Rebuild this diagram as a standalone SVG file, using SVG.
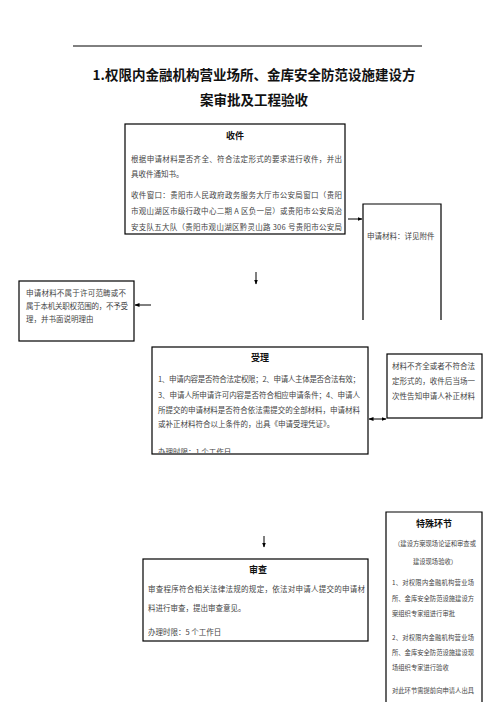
<svg xmlns="http://www.w3.org/2000/svg" width="496" height="702" viewBox="0 0 496 702">
<style>
.t{font-family:"Noto Sans CJK SC","Noto Sans",sans-serif;font-size:7.5px;fill:#444}
.s{font-family:"Noto Sans CJK SC","Noto Sans",sans-serif;font-size:6.3px;fill:#444}
.h{font-family:"Noto Sans CJK SC","Noto Sans",sans-serif;font-size:9px;font-weight:bold;fill:#111;text-anchor:middle}
.title{font-family:"Noto Sans CJK SC","Noto Sans",sans-serif;font-size:13.5px;font-weight:bold;fill:#111;text-anchor:middle}
.box{fill:#fff;stroke:#000;stroke-width:1.2}
.open{fill:none;stroke:#000;stroke-width:1.2}
.c{stroke:#000;stroke-width:1;fill:none}
</style>
<defs>
<marker id="ah" viewBox="0 0 10 10" refX="9" refY="5" markerWidth="5" markerHeight="5" orient="auto-start-reverse">
<path d="M0,1 L10,5 L0,9 Z" fill="#000"/>
</marker>
<clipPath id="clipAccept"><rect x="152" y="347" width="216" height="106"/></clipPath>
</defs>
<rect width="496" height="702" fill="#fff"/>
<line x1="73" y1="46" x2="422" y2="46" stroke="#000" stroke-width="1"/>
<text class="title" x="254" y="80">1.权限内金融机构营业场所、金库安全防范设施建设方</text>
<text class="title" x="254" y="105">案审批及工程验收</text>

<g id="node-receive">
<rect class="box" x="125" y="124" width="220" height="110"/>
<text class="h" x="235" y="139">收件</text>
<text class="t" x="131" y="162" textLength="211">根据申请材料是否齐全、符合法定形式的要求进行收件，并出</text>
<text class="t" x="131" y="177">具收件通知书。</text>
<text class="t" x="131" y="198" textLength="211">收件窗口：贵阳市人民政府政务服务大厅市公安局窗口（贵阳</text>
<text class="t" x="131" y="214" textLength="211">市观山湖区市级行政中心二期 A 区负一层）或贵阳市公安局治</text>
<text class="t" x="131" y="230" textLength="211">安支队五大队（贵阳市观山湖区黔灵山路 306 号贵阳市公安局</text>
</g>

<g id="node-materials">
<path class="open" d="M363,320 V204 H441 V320"/>
<text class="t" x="367" y="239">申请材料：详见附件</text>
</g>

<g id="node-reject">
<rect class="box" x="19" y="281" width="115" height="60"/>
<text class="t" x="26" y="296" textLength="100">申请材料不属于许可范畴或不</text>
<text class="t" x="26" y="309" textLength="102">属于本机关职权范围的，不予受</text>
<text class="t" x="26" y="322">理，并书面说明理由</text>
</g>

<g id="node-accept">
<rect class="box" x="152" y="347" width="216" height="107"/>
<text class="h" x="260" y="361">受理</text>
<text class="t" x="158" y="382" textLength="202">1、申请内容是否符合法定权限；2、申请人主体是否合法有效；</text>
<text class="t" x="158" y="398" textLength="202">3、申请人所申请许可内容是否符合相应申请条件；4、申请人</text>
<text class="t" x="158" y="413" textLength="202">所提交的申请材料是否符合依法需提交的全部材料，申请材料</text>
<text class="t" x="158" y="427">或补正材料符合以上条件的，出具《申请受理凭证》。</text>
<text class="t" x="158" y="454.5" clip-path="url(#clipAccept)">办理时限：1 个工作日</text>
</g>

<g id="node-correct">
<rect class="box" x="387" y="354" width="95" height="64"/>
<text class="t" x="392" y="369" textLength="83">材料不齐全或者不符合法</text>
<text class="t" x="392" y="384" textLength="83">定形式的，收件后当场一</text>
<text class="t" x="392" y="399" textLength="83">次性告知申请人补正材料</text>
</g>

<g id="node-review">
<rect class="box" x="143" y="559" width="225" height="82"/>
<text class="h" x="258" y="573">审查</text>
<text class="t" x="148" y="592" textLength="217">审查程序符合相关法律法规的规定，依法对申请人提交的申请材</text>
<text class="t" x="148" y="611">料进行审查，提出审查意见。</text>
<text class="t" x="148" y="635">办理时限：5 个工作日</text>
</g>

<g id="node-special">
<path class="open" d="M386,703 V512 H482 V703"/>
<text class="h" x="434" y="527">特殊环节</text>
<text class="s" x="435" y="545.5" text-anchor="middle">（建设方案现场论证和审查或</text>
<text class="s" x="435" y="563.5" text-anchor="middle">建设现场验收）</text>
<text class="s" x="392" y="585" textLength="82">1、对权限内金融机构营业场</text>
<text class="s" x="392" y="600.5" textLength="82">所、金库安全防范设施建设方</text>
<text class="s" x="392" y="615.5">案组织专家组进行审批</text>
<text class="s" x="392" y="639.5" textLength="82">2、对权限内金融机构营业场</text>
<text class="s" x="392" y="654.5" textLength="82">所、金库安全防范设施建设现</text>
<text class="s" x="392" y="669.5">场组织专家进行验收</text>
<text class="s" x="392" y="692.5" textLength="82">对此环节需提前向申请人出具</text>
</g>

<g id="connectors">
<line class="c" x1="348" y1="219" x2="362" y2="219" marker-end="url(#ah)"/>
<line class="c" x1="151" y1="305" x2="135" y2="305" marker-end="url(#ah)"/>
<line class="c" x1="256" y1="272" x2="256" y2="284" marker-end="url(#ah)"/>
<line class="c" x1="369" y1="419" x2="386" y2="419" marker-start="url(#ah)" marker-end="url(#ah)"/>
<line class="c" x1="264" y1="536" x2="264" y2="547" marker-end="url(#ah)"/>
</g>
</svg>
